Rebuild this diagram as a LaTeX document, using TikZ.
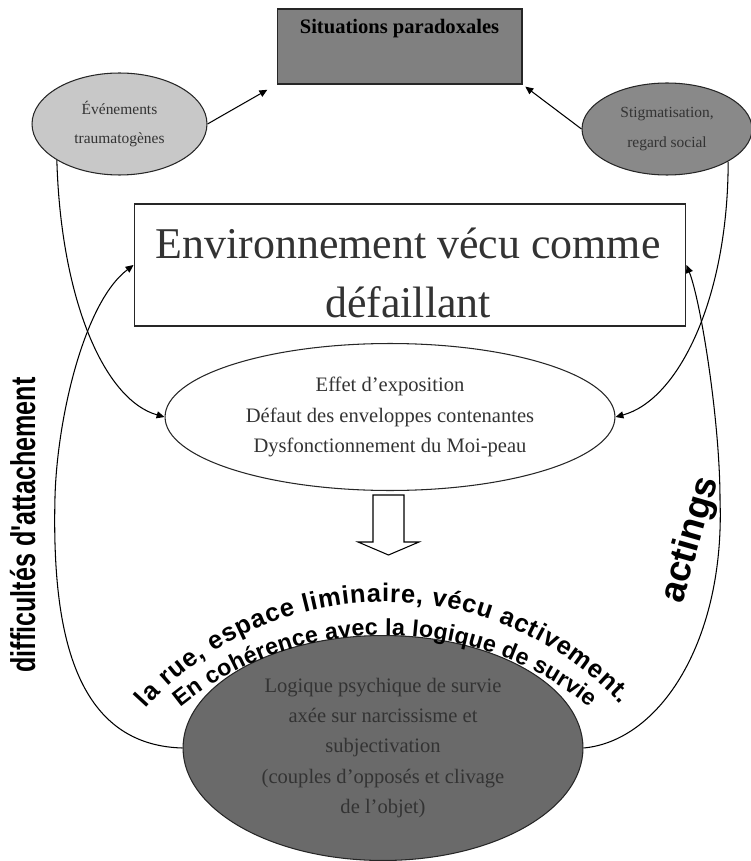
\documentclass[tikz,border=0pt]{standalone}
\usepackage{graphicx}
\usepackage{fontspec}
\setmainfont{Liberation Serif}
\setsansfont{Liberation Sans}
\usetikzlibrary{shapes}
\usetikzlibrary{calc}
\usetikzlibrary{arrows.meta}
\usetikzlibrary{decorations.text}
\definecolor{sitgray}{HTML}{808080}
\definecolor{evtgray}{HTML}{C8C8C8}
\definecolor{stggray}{HTML}{898989}
\definecolor{lowgray}{HTML}{6A6A6A}
\definecolor{txtgray}{HTML}{333333}
\providecommand\ruefont{\fontsize{14.5}{16}\selectfont\sffamily\bfseries}
\providecommand\survfont{\fontsize{13.2}{16}\selectfont\sffamily\bfseries}
\providecommand\sidefont{\fontsize{19.6}{22}\selectfont\sffamily\bfseries}

\begin{document}
\begin{tikzpicture}[x = 0.02cm, y = 0.02cm, line width = 0.6pt,
        >={Triangle[length = 4.5pt, width = 4pt]},
        sitbox/.style = {draw = black!85, fill = sitgray, inner sep = 0pt,
            minimum width = 4.9cm, text height = 13.7pt, text depth = 29pt,
            font = \fontsize{11.7}{14}\selectfont\bfseries},
        smallell/.style = {ellipse, draw = black!85, inner sep = 0pt, align = center, text = txtgray},
        bigell/.style = {ellipse, draw = black!85, inner sep = 0pt, align = center, text = txtgray,
            font = \fontsize{11.7}{17.2}\selectfont},
        ]
    \useasboundingbox (0,0) rectangle (750,-861);

    %\draw[help lines, opacity = 0.1] (0,0) grid[step = 50] (750,-861);

    \node (sit) at (399.5,-46.5) [sitbox] {Situations paradoxales};

    \node (evt) at (119.5,-124) [smallell, fill = evtgray, minimum width = 3.5cm, minimum height = 2.04cm,
        font = \fontsize{8.8}{16}\selectfont] {Événements\\traumatogènes};
    \node (stg) at (667,-129) [smallell, fill = stggray, minimum width = 3.4cm, minimum height = 1.84cm,
        font = \fontsize{8.8}{17.5}\selectfont] {Stigmatisation,\\regard social};

    \node (env) at (410,-265) [draw = black!85, minimum width = 11.04cm, minimum height = 2.44cm] {};
    \node (envtxt) at (408,-273) [inner sep = 0pt, align = center, text = txtgray,
        font = \fontsize{25}{34}\selectfont] {Environnement vécu comme\\défaillant};

    \node (eff) at (390,-417) [bigell, fill = white, minimum width = 9cm, minimum height = 2.94cm]
        {Effet d’exposition\\Défaut des enveloppes contenantes\\Dysfonctionnement du Moi-peau};

    \node (low) at (383,-748) [bigell, fill = lowgray, minimum width = 8cm, minimum height = 4.5cm]
        {Logique psychique de survie\\axée sur narcissisme et\\subjectivation\\(couples d’opposés et clivage\\de l’objet)};

    % block arrow
    \draw[fill = white] (373,-495) -- (404,-495) -- (404,-542) -- (419,-542)
        -- (388.5,-555) -- (358,-542) -- (373,-542) -- cycle;

    \draw[->] (evt.east) -- (sit.south west) [shorten >= 6pt];
    \draw[->] (stg.west) -- (sit.south east) [shorten >= 2pt];

    \draw[->] (evt.210) .. controls +(4,-140) and +(-60,17) .. (eff.west);
    \draw[->] (stg.332) .. controls +(0,-137) and +(63,17) .. (eff.east);

    \coordinate (attL) at (55,-497);
    \coordinate (actR) at (720,-500);
    \draw[->] (low.west) .. controls +(-113,3) and +(-3,-123) .. (attL)
        .. controls +(2,77) and +(-50,-38) .. (env.west);
    \draw[->] (low.east) .. controls +(77,7) and +(5,-140) .. (actR)
        .. controls +(0,80) and +(14,-35) .. (env.east);

    % arched texts
    \coordinate (arcA) at (385,-924);
    \coordinate (arcB) at (385,-960);
    \path[decorate, decoration = {text along path, text align = {fit to path},
        text = {|\ruefont|la rue, espace liminaire, vécu activement.}}]
        ([shift = {(138:322)}]arcA) arc[start angle = 138, end angle = 43, radius = 322];
    \path[decorate, decoration = {text along path, text align = {fit to path},
        text = {|\survfont|En cohérence avec la logique de survie}}]
        ([shift = {(129:325)}]arcB) arc[start angle = 129, end angle = 51, radius = 325];

    \node (attach) at (35,-525) [rotate = 90, anchor = base, inner sep = 0pt, font = \sidefont]
        {\scalebox{0.73}[1]{difficultés d\textquotesingle attachement}};
    \node (act) at (691,-540) [rotate = 74, inner sep = 0pt, font = \fontsize{21}{24}\selectfont\sffamily\bfseries] {actings};

\end{tikzpicture}
\end{document}
